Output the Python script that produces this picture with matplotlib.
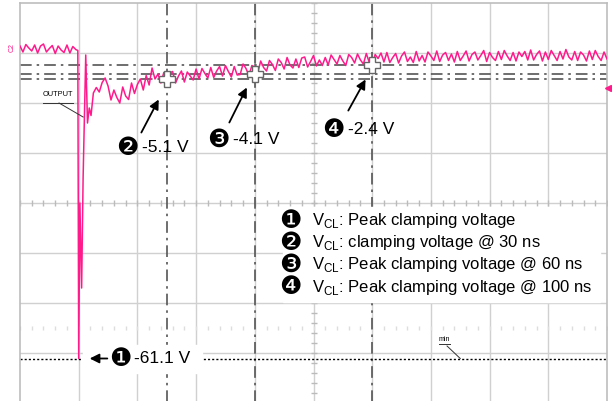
import numpy as np
import matplotlib.pyplot as plt
from matplotlib.patches import Rectangle

plt.rcParams['font.family'] = ['Liberation Sans', 'DejaVu Sans']
plt.rcParams['mathtext.fontset'] = 'custom'
plt.rcParams['mathtext.rm'] = 'Liberation Sans'

# trace (ns, V), 20 ns/div, 10 V/div
pre_v = [1.4, 0.2, 1.7, 1.0, 0.4, 1.6, 0.0, 1.4, 1.8, 0.2,
         0.9, 1.5, -0.1, 1.4, 0.6, 0.1, 1.6, 0.0, 1.3, 0.7]          # t = -20 .. -1
spike_t = [-0.3, 0.0, 0.4, 1.0, 1.5, 2.4, 3.0, 3.6, 4.2]
spike_v = [0.5, -61.1, -30.0, -47.0, -25.0, -0.4, -14.0, -11.0, -12.5]
post_v = [-8.0, -6.9, -7.8, -5.9, -5.0, -6.6, -9.4, -7.4, -8.9, -10.0,
          -6.8, -8.6, -9.3, -6.0, -8.1, -6.3, -5.2, -7.4, -4.5, -6.4,
          -3.0, -5.2, -4.2, -6.0, -3.9, -5.9, -4.0, -3.7, -6.0, -4.6,
          -3.6, -5.8, -3.8, -4.6, -5.4, -3.2, -5.2, -3.1, -4.1, -5.0,
          -2.9, -4.9, -3.6, -2.7, -4.6, -2.5, -3.7, -4.8, -2.7, -4.4,
          -4.3, -2.2, -3.1, -4.5, -2.5, -2.8, -4.0, -1.6, -2.9, -3.6,
          -1.5, -2.3, -3.5, -1.2, -1.9, -3.2, -0.9, -2.4, -3.0, -1.2,
          -2.9, -1.0, -0.8, -2.8, -1.7, -0.5, -2.6, -1.4, -2.5, -0.9,
          -2.4, -0.4, -1.3, -2.2, -0.5, -1.6, -2.5, -0.3, -0.9, -2.0,
          -0.2, -1.4, -2.2, -0.1, -1.9, -2.5, -0.3, -1.1, 0.0, -1.8,
          0.1, -1.9, -0.9, -0.1, -2.0, -0.6, 0.2, -1.7, -0.8, -1.9,
          0.3, -1.6, -0.5, -1.8, 0.2, -0.6, -1.5, 0.4, -1.7, -0.4,
          0.1, -1.5, -0.2, -1.8, 0.3, -1.5, -0.6, 0.4, -1.6, -0.3,
          0.2, -1.4, -0.5, 0.5, -1.7, 0.1, -0.9, -1.5, 0.3, -1.3,
          0.5, -0.6, -1.5, 0.1, -1.6, 0.2, -0.7, 0.3, -1.4, 0.6,
          -1.4, -0.3, 0.4, -1.6, 0.2, -1.3, 0.5, -0.5, -1.5, 0.3,
          -1.2, 0.7, -0.8, -1.4, 0.3, -1.5, 0.2, -0.4, -1.6, 0.4,
          -1.3, 0.5, -0.7, -1.5, 0.2, -1.2]                           # t = 5 .. 180

cursor_t = [30, 60, 100]
cursor_v = [-5.1, -4.1, -2.4]
cursor_num = ['❷', '❸', '❹']
peak_v = -61.1

legend_num = ['❶', '❷', '❸', '❹']
legend_txt = ['V$_{\\rm CL}$: Peak clamping voltage',
              'V$_{\\rm CL}$: clamping voltage @ 30 ns',
              'V$_{\\rm CL}$: Peak clamping voltage @ 60 ns',
              'V$_{\\rm CL}$: Peak clamping voltage @ 100 ns']

t = np.concatenate([np.arange(-20, 0), spike_t, np.arange(5, 181)])
v = np.concatenate([pre_v, spike_v, post_v])

pink = '#ff1a8c'
gridc = '#d0d0d0'
curc = '#555555'
dashdot = (0, (7, 3, 1.5, 3))

fig = plt.figure(figsize=(6.12, 4.01), dpi=100)
ax = fig.add_axes([20 / 612, -2 / 401, 587 / 612, 400 / 401])
ax.set_xlim(-20, 180)
ax.set_ylim(-70, 10)
ax.set_xticks([])
ax.set_yticks([])
for s in ax.spines.values():
    s.set_color('#bdbdbd')
    s.set_linewidth(1.2)

# graticule
for gx in range(0, 180, 20):
    ax.axvline(gx, color=gridc, lw=1, zorder=1)
for gy in range(-60, 10, 10):
    ax.axhline(gy, color=gridc, lw=1, zorder=1)
tx = np.arange(-20, 181, 4)
ax.plot(tx, np.full(len(tx), -30), '|', ms=5, color='#bbbbbb', zorder=1)
ax.plot(tx, np.full(len(tx), -55), '|', ms=3, color='#dddddd', zorder=1)
ty = np.arange(-70, 11, 2)
ax.plot(np.full(len(ty), 80), ty, '_', ms=5, color='#bbbbbb', zorder=1)

# cursors
for ct in cursor_t:
    ax.axvline(ct, color=curc, lw=1.2, ls=dashdot, zorder=2)
for cv in cursor_v:
    ax.axhline(cv, color=curc, lw=1.2, ls=dashdot, zorder=2)
ax.axhline(peak_v, color='black', lw=1, ls=(0, (1.5, 1.5)), zorder=2)

# trace
ax.plot(t, v, color=pink, lw=1.1, zorder=3)
ax.plot(cursor_t, cursor_v, 'P', ms=11, mfc='white', mec='#666666', mew=1, zorder=4)

# labels for cursors
lab_pos = [(16.5, -19.0), (47.5, -17.4), (86.7, -15.4)]
tails = [(20.9, -16.4), (50.9, -14.4), (91.4, -12.0)]
heads = [(27.7, -8.8), (57.7, -6.4), (98.2, -4.8)]
for num, cv, (lx, ly), tl, hd in zip(cursor_num, cursor_v, lab_pos, tails, heads):
    ax.annotate('', xy=hd, xytext=tl,
                arrowprops=dict(arrowstyle='-|>', color='black', lw=1.3, mutation_scale=14), zorder=5)
    ax.text(lx, ly, num, fontsize=18, family='DejaVu Sans', ha='center', va='center', zorder=5)
    ax.text(lx + 5.2, ly, f'{cv:.1f} V', fontsize=12.5, ha='left', va='center', zorder=5)

# peak label
ax.add_patch(Rectangle((1.5, -64.0), 40.5, 5.6, color='white', zorder=2.5))
ax.annotate('', xy=(2.8, peak_v), xytext=(10.7, peak_v),
            arrowprops=dict(arrowstyle='-|>', color='black', lw=1.3, mutation_scale=14), zorder=5)
ax.text(14.1, peak_v, '❶', fontsize=18, family='DejaVu Sans', ha='center', va='center', zorder=5)
ax.text(18.9, peak_v, f'{peak_v:.1f} V', fontsize=12.5, ha='left', va='center', zorder=5)

# legend box
ax.add_patch(Rectangle((69.6, -49.8), 108, 19.0, color='white', zorder=2.5))
for i, (num, txt) in enumerate(zip(legend_num, legend_txt)):
    yy = -33.5 - 4.45 * i
    ax.text(72.2, yy, num, fontsize=18, family='DejaVu Sans', ha='center', va='center', zorder=5)
    ax.text(79.6, yy, txt, fontsize=12, ha='left', va='center', zorder=5)

# small screen annotations
ax.text(-12.2, -9.0, 'OUTPUT', fontsize=5.3, ha='left', va='bottom', zorder=5)
ax.plot([-12.2, -2.0], [-10.0, -10.0], color='#333333', lw=0.7, zorder=5)
ax.plot([-6.7, 1.5], [-10.0, -12.8], color='#333333', lw=0.7, zorder=5)
ax.text(122.7, -58.0, 'min', fontsize=5, ha='left', va='bottom', zorder=5)
ax.plot([122.7, 126.5], [-58.2, -58.2], color='#333333', lw=0.7, zorder=5)
ax.plot([125.5, 130.0], [-58.6, -61.1], color='#333333', lw=0.7, zorder=5)
ax.text(-22.8, 1.0, 'C2', fontsize=5, color=pink, rotation=90, ha='center', va='center',
        clip_on=False)
ax.plot([180.3], [-7.0], '<', ms=4, color=pink, clip_on=False, zorder=5)

fig.savefig('out.png', dpi=100)
